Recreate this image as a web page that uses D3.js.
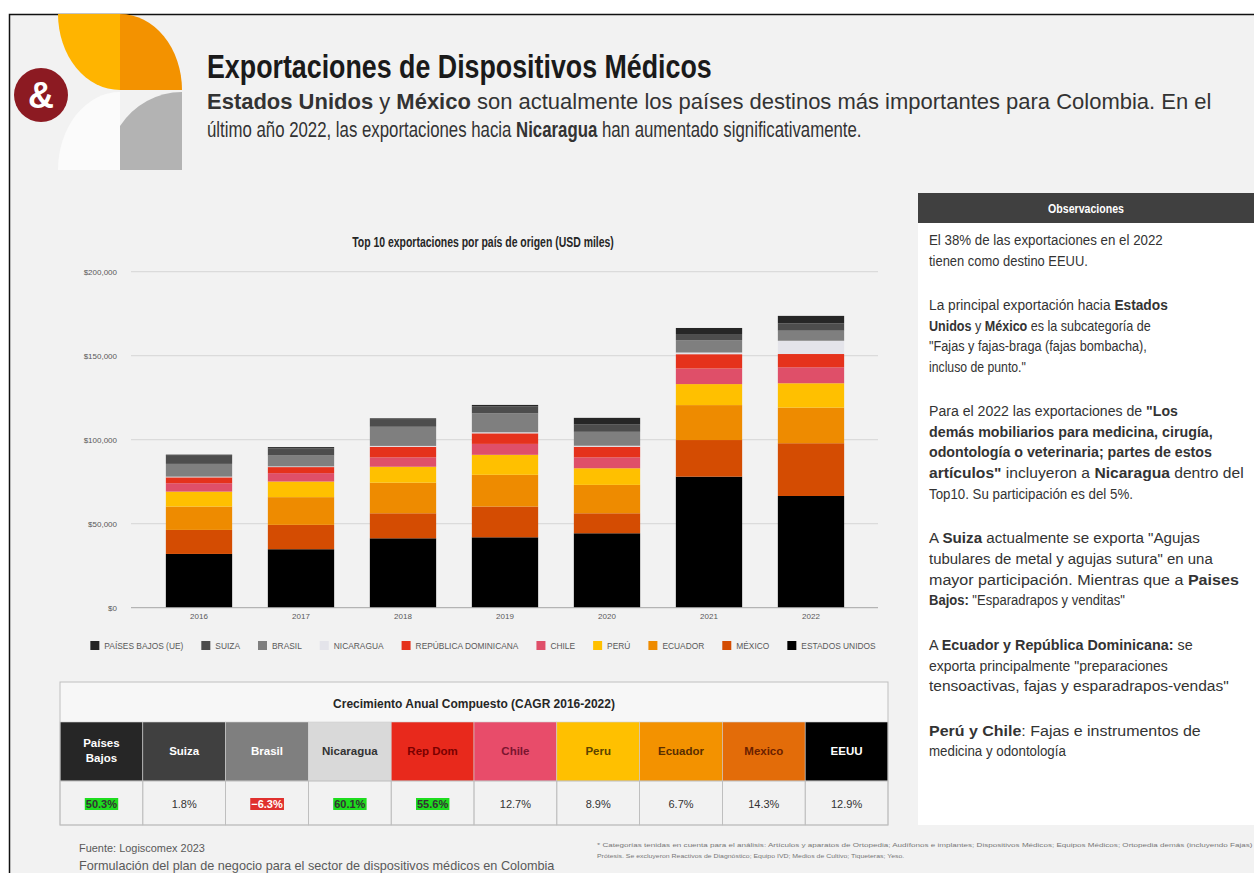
<!DOCTYPE html>
<html><head><meta charset="utf-8">
<script src="https://cdn.jsdelivr.net/npm/d3@7"></script>
<style>
body{margin:0;background:#fff;}
svg{display:block;font-family:"Liberation Sans",Arial,sans-serif;}
</style>
</head><body>
<svg id="c" width="1254" height="873"></svg>
<script>
// ---------------- DATA ----------------
const years = ["2016","2017","2018","2019","2020","2021","2022"];
const seriesNames = ["PAÍSES BAJOS (UE)","SUIZA","BRASIL","NICARAGUA","REPÚBLICA DOMINICANA","CHILE","PERÚ","ECUADOR","MÉXICO","ESTADOS UNIDOS"];
// USD miles
const paisesBajos   = [600, 700, 800, 800, 4000, 3600, 4400];
const suiza         = [4900, 4300, 4200, 4200, 4300, 3700, 4400];
const brasil        = [7600, 6500, 11400, 11300, 8300, 7300, 6000];
const nicaragua     = [400, 400, 500, 600, 600, 1000, 7900];
const repDominicana = [3500, 3600, 6300, 6300, 6300, 8500, 7900];
const chile         = [5000, 5000, 5600, 6500, 6500, 9300, 9500];
const peru          = [8900, 9300, 9500, 11900, 9900, 12500, 14500];
const ecuador       = [13900, 16500, 18200, 18900, 16900, 20800, 21200];
const mexico        = [14300, 14500, 14900, 18300, 11900, 21800, 31400];
const estadosUnidos = [32000, 34800, 41300, 41900, 44300, 78000, 66500];
const yTickValues = [0, 50000, 100000, 150000, 200000];

const cagrCountries = ["Países Bajos","Suiza","Brasil","Nicaragua","Rep Dom","Chile","Peru","Ecuador","Mexico","EEUU"];
const cagrValues = [50.3, 1.8, -6.3, 60.1, 55.6, 12.7, 8.9, 6.7, 14.3, 12.9];

// ---------------- STYLES ----------------
const seriesColors = ["#262626","#4d4d4d","#7f7f7f","#e4e4ea","#e5321c","#df4f69","#ffc000","#ee8b00","#d44c02","#000000"];
const headerFill = ["#262626","#404040","#7f7f7f","#d9d9d9","#e8291c","#e84c6a","#ffc000","#f39200","#e36c09","#000000"];
const headerText = ["#ffffff","#ffffff","#ffffff","#333333","#7a0000","#7a1530","#5a4300","#5a2e00","#6a2000","#ffffff"];

const svg = d3.select("#c");

// background + frame
svg.append("rect").attr("x",0).attr("y",0).attr("width",1254).attr("height",873).attr("fill","#ffffff");
svg.append("rect").attr("x",9.5).attr("y",14.5).attr("width",1300).attr("height",900)
  .attr("fill","#f2f2f2").attr("stroke","#111").attr("stroke-width",1.5);

// ---------------- LOGO ----------------
const logo = svg.append("g");
logo.append("path").attr("d","M120,14 L58,14 A62,76 0 0,0 120,90 Z").attr("fill","#ffb400");
logo.append("path").attr("d","M120,90 L182,90 A62,76 0 0,0 120,14 Z").attr("fill","#f39200");
logo.append("path").attr("d","M120,170 L58,170 A62,78 0 0,1 120,92 Z").attr("fill","#fbfbfb");
logo.append("path").attr("d","M182,170 L120,170 L120,126 A75,78 0 0,1 182,92 Z").attr("fill","#b3b3b3");
logo.append("circle").attr("cx",41).attr("cy",95).attr("r",27).attr("fill","#8c1a22");
logo.append("text").attr("x",41).attr("y",108).attr("text-anchor","middle")
  .attr("font-size",36).attr("font-weight","bold").attr("fill","#fff").text("&");

// ---------------- TEXT HELPER (horizontal scaling to fit a width) ----------------
function rich(g, x, y, segs, width, size, color, anchor){
  const gg = g.append("g");
  const t = gg.append("text").attr("x",0).attr("y",0).attr("font-size",size).attr("fill",color||"#333")
    .attr("text-anchor",anchor||"start");
  segs.forEach(s=>{ t.append("tspan").attr("font-weight", s[1] ? "bold":"normal").text(s[0]); });
  const w = t.node().getComputedTextLength();
  const sx = width ? width / w : 1;
  gg.attr("transform",`translate(${x},${y}) scale(${sx},1)`);
  return gg;
}
rich(svg, 207, 78, [["Exportaciones de Dispositivos Médicos",1]], 505, 33, "#1a1a1a");
rich(svg, 207, 109, [["Estados Unidos",1],[" y ",0],["México",1],[" son actualmente los países destinos más importantes para Colombia. En el",0]], 1005, 22, "#333");
rich(svg, 207, 137, [["último año 2022, las exportaciones hacia ",0],["Nicaragua",1],[" han aumentado significativamente.",0]], 655, 22, "#333");

// ---------------- CHART ----------------
const keys = seriesNames.slice().reverse();
const seriesArrays = [paisesBajos,suiza,brasil,nicaragua,repDominicana,chile,peru,ecuador,mexico,estadosUnidos];
const table = years.map((yr,i)=>{
  const row = {year:yr};
  seriesNames.forEach((n,j)=>{ row[n] = seriesArrays[j][i]; });
  return row;
});
const color = d3.scaleOrdinal().domain(seriesNames).range(seriesColors);

const x = d3.scaleBand().domain(years).range([148,862]).paddingInner(0.35).paddingOuter(0.175);
const y = d3.scaleLinear().domain([0,200000]).range([607.7,271.7]);

// chart title
rich(svg, 483, 247, [["Top 10 exportaciones por país de origen (USD miles)",1]], 262, 14, "#262626", "middle");

// gridlines
svg.append("g").selectAll("line").data(yTickValues.slice(1)).join("line")
  .attr("x1",131).attr("x2",878).attr("y1",d=>y(d)).attr("y2",d=>y(d))
  .attr("stroke","#d6d6d6").attr("stroke-width",1);

// y axis labels
const yAxis = d3.axisLeft(y).tickValues(yTickValues).tickFormat(d3.format("$,")).tickSize(0).tickPadding(0);
const ya = svg.append("g").attr("transform","translate(117,0)").call(yAxis);
ya.select(".domain").remove();
ya.selectAll("text").attr("font-size",8).attr("fill","#595959").attr("font-family","Liberation Sans, Arial");

// bars
const stack = d3.stack().keys(keys);
const stacked = stack(table);
svg.append("g").selectAll("g").data(stacked).join("g")
  .attr("fill", d=>color(d.key))
  .selectAll("rect").data(d=>d).join("rect")
  .attr("x", d=>x(d.data.year)).attr("width", x.bandwidth())
  .attr("y", d=>y(d[1])).attr("height", d=>y(d[0])-y(d[1]));

// baseline
svg.append("line").attr("x1",131).attr("x2",878).attr("y1",y(0)).attr("y2",y(0))
  .attr("stroke","#a6a6a6").attr("stroke-width",1);

// x axis
const xAxis = d3.axisBottom(x).tickSize(0).tickPadding(6);
const xa = svg.append("g").attr("transform",`translate(0,${y(0)})`).call(xAxis);
xa.select(".domain").remove();
xa.selectAll("text").attr("font-size",8).attr("fill","#595959").attr("font-family","Liberation Sans, Arial");

// legend
const lg = svg.append("g");
let lx = 0;
const gap = 18;
seriesNames.forEach((n)=>{
  const g = lg.append("g");
  g.append("rect").attr("x",0).attr("y",-8).attr("width",9).attr("height",9).attr("fill",color(n));
  const t = g.append("text").attr("x",14).attr("y",0).attr("font-size",8.4).attr("fill","#595959").text(n);
  const w = t.node().getComputedTextLength();
  g.attr("transform",`translate(${lx},0)`);
  lx += 14 + w + gap;
});
const lw = lx - gap;
lg.attr("transform",`translate(${483 - lw/2},649)`);

// ---------------- CAGR TABLE ----------------
const tx0 = 60, tx1 = 888;
const cx = d3.scaleBand().domain(cagrCountries).range([tx0,tx1]);
const tb = svg.append("g");
tb.append("rect").attr("x",tx0).attr("y",682).attr("width",tx1-tx0).attr("height",40).attr("fill","#f7f7f7");
tb.append("rect").attr("x",tx0).attr("y",781).attr("width",tx1-tx0).attr("height",44).attr("fill","#f2f2f2");
rich(tb, (tx0+tx1)/2, 708, [["Crecimiento Anual Compuesto (CAGR 2016-2022)",1]], 282, 12, "#262626", "middle");
tb.selectAll("rect.h").data(cagrCountries).join("rect").attr("class","h")
  .attr("x",d=>cx(d)).attr("y",722).attr("width",cx.bandwidth()).attr("height",59)
  .attr("fill",(d,i)=>headerFill[i]).attr("stroke","#cfcfcf").attr("stroke-width",0.6);
cagrCountries.forEach((d,i)=>{
  const mx = cx(d)+cx.bandwidth()/2;
  const words = d === "Países Bajos" ? ["Países","Bajos"] : [d];
  words.forEach((w,k)=>{
    tb.append("text").attr("x",mx).attr("y", words.length>1 ? 747+k*15 : 755)
      .attr("text-anchor","middle").attr("font-size",11.5).attr("font-weight","bold")
      .attr("fill",headerText[i]).text(w);
  });
  tb.append("rect").attr("x",cx(d)).attr("y",781).attr("width",cx.bandwidth()).attr("height",44)
    .attr("fill","none").attr("stroke","#bdbdbd").attr("stroke-width",0.8);
  const v = cagrValues[i];
  const label = d3.format(".1f")(v) + "%";
  const hl = v > 50 ? "#1edc1e" : (v < 0 ? "#e0302e" : null);
  const t = tb.append("text").attr("x",mx).attr("y",808).attr("text-anchor","middle")
    .attr("font-size",11).attr("fill", v<0 ? "#ffffff" : "#333").attr("font-weight", hl ? "bold":"normal").text(label);
  if(hl){
    const bb = t.node().getBBox();
    tb.insert("rect", function(){ return t.node(); })
      .attr("x",bb.x-1).attr("y",bb.y).attr("width",bb.width+2).attr("height",bb.height).attr("fill",hl);
  }
});
tb.append("rect").attr("x",tx0).attr("y",682).attr("width",tx1-tx0).attr("height",143)
  .attr("fill","none").attr("stroke","#bfbfbf").attr("stroke-width",1);

// ---------------- OBSERVATIONS ----------------
const ob = svg.append("g");
ob.append("rect").attr("x",918).attr("y",223).attr("width",340).attr("height",602).attr("fill","#ffffff");
ob.append("rect").attr("x",918).attr("y",193).attr("width",340).attr("height",30).attr("fill","#404040");
rich(ob, 1086, 213, [["Observaciones",1]], 76, 13.5, "#ffffff", "middle");

const obsLines = [
  [245, [["El 38% de las exportaciones en el 2022",0]], 1163],
  [266, [["tienen como destino EEUU.",0]], 1088],
  [310, [["La principal exportación hacia ",0],["Estados",1]], 1168],
  [331, [["Unidos",1],[" y ",0],["México",1],[" es la subcategoría de",0]], 1151],
  [351, [["\"Fajas y fajas-braga (fajas bombacha),",0]], 1147],
  [372, [["incluso de punto.\"",0]], 1026],
  [416, [["Para el 2022 las exportaciones de ",0],["\"Los",1]], 1178],
  [437, [["demás mobiliarios para medicina, cirugía,",1]], 1213],
  [457, [["odontología o veterinaria; partes de estos",1]], 1212],
  [478, [["artículos\"",1],[" incluyeron a ",0],["Nicaragua",1],[" dentro del",0]], 1244],
  [499, [["Top10. Su participación es del 5%.",0]], 1133],
  [543, [["A ",0],["Suiza",1],[" actualmente se exporta \"Agujas",0]], 1200],
  [564, [["tubulares de metal y agujas sutura\" en una",0]], 1213],
  [585, [["mayor participación. Mientras que a ",0],["Paises",1]], 1239],
  [605, [["Bajos:",1],[" \"Esparadrapos y venditas\"",0]], 1125],
  [650, [["A ",0],["Ecuador y República Dominicana:",1],[" se",0]], 1193],
  [671, [["exporta principalmente \"preparaciones",0]], 1168],
  [691, [["tensoactivas, fajas y esparadrapos-vendas\"",0]], 1229],
  [736, [["Perú y Chile",1],[": Fajas e instrumentos de",0]], 1201],
  [756, [["medicina y odontología",0]], 1066]
];
obsLines.forEach(l=>{ rich(ob, 929, l[0], l[1], l[2]-929, 14.5, "#333"); });

// ---------------- FOOTER ----------------
rich(svg, 79, 852, [["Fuente: Logiscomex 2023",0]], 126, 11.5, "#595959");
rich(svg, 79, 869.5, [["Formulación del plan de negocio para el sector de dispositivos médicos en Colombia",0]], 476, 13, "#595959");
rich(svg, 597, 847, [["* Categorías tenidas en cuenta para el análisis: Artículos y aparatos de Ortopedia; Audífonos e implantes; Dispositivos Médicos; Equipos Médicos; Ortopedia demás (incluyendo Fajas)",0]], 656, 6, "#777");
rich(svg, 597, 858, [["Prótesis. Se excluyeron Reactivos de Diagnóstico; Equipo IVD; Medios de Cultivo; Tiqueteras; Yeso.",0]], 308, 6, "#777");
</script>
</body></html>
